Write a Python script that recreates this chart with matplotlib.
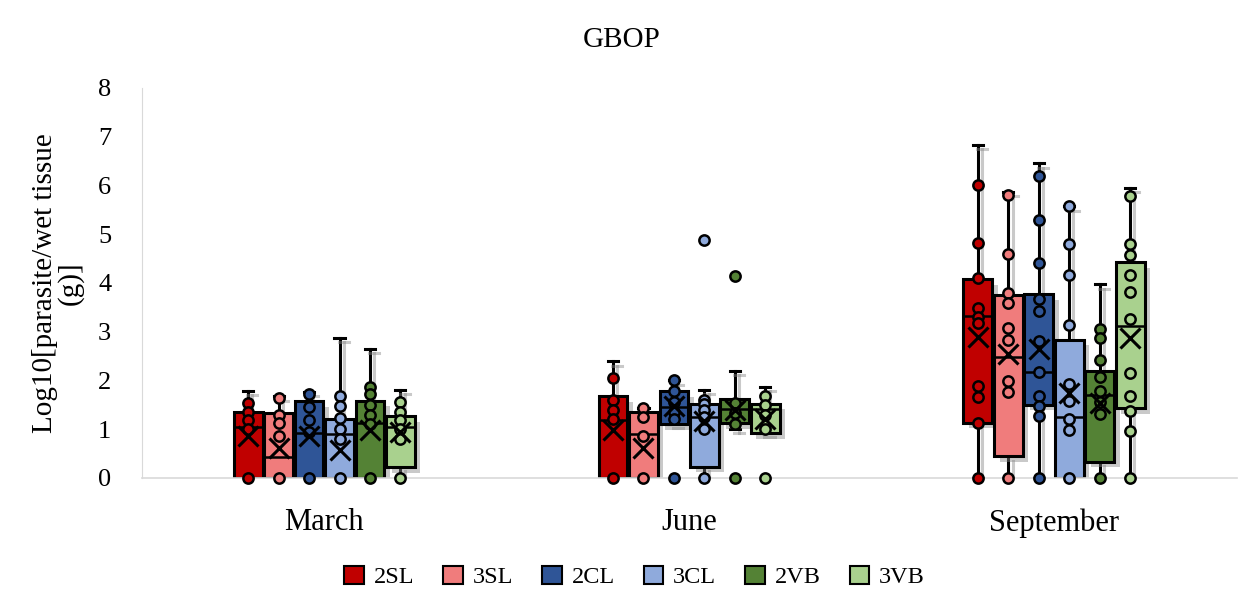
import matplotlib
matplotlib.use("Agg")
import matplotlib.pyplot as plt
import matplotlib.patheffects as pe
from matplotlib.patches import Patch

plt.rcParams['font.family'] = ['Liberation Serif', 'DejaVu Serif']

months = ["March", "June", "September"]
series = ["2SL", "3SL", "2CL", "3CL", "2VB", "3VB"]
colors = ["#C00000", "#F07C7C", "#2F5597", "#8FAADC", "#548235", "#A9D18E"]

# rows: months, cols: series
q1 = [[0.0, 0.0, 0.0, 0.0, 0.0, 0.22],
      [0.0, 0.0, 1.10, 0.23, 1.12, 0.92],
      [1.13, 0.44, 1.50, 0.0, 0.33, 1.43]]
med = [[1.05, 0.43, 0.92, 0.90, 1.12, 1.05],
       [1.19, 0.90, 1.45, 1.25, 1.41, 1.41],
       [3.33, 2.49, 2.17, 1.24, 1.70, 3.12]]
q3 = [[1.36, 1.33, 1.57, 1.20, 1.58, 1.27],
      [1.67, 1.36, 1.78, 1.52, 1.62, 1.52],
      [4.08, 3.75, 3.77, 2.83, 2.20, 4.42]]
whislo = [[0.0, 0.0, 0.0, 0.0, 0.0, 0.0],
          [0.0, 0.0, 1.10, 0.0, 1.00, 0.92],
          [0.0, 0.0, 0.0, 0.0, 0.0, 0.0]]
whishi = [[1.78, 1.67, 1.77, 2.87, 2.65, 1.80],
          [2.39, 1.43, 2.00, 1.80, 2.20, 1.86],
          [6.83, 5.86, 6.45, 5.57, 3.97, 5.94]]
means = [[0.85, 0.61, 0.85, 0.57, 0.98, 0.95],
         [0.98, 0.61, 1.48, 1.16, 1.40, 1.20],
         [2.90, 2.55, 2.65, 1.74, 1.53, 2.88]]
points = [
    [[1.53, 1.36, 1.19, 1.00, 0.0],
     [1.63, 1.30, 1.13, 0.85, 0.0],
     [1.72, 1.46, 1.19, 0.95, 0.0],
     [1.67, 1.47, 1.22, 1.00, 0.80, 0.0],
     [1.86, 1.72, 1.50, 1.30, 1.10, 0.0],
     [1.55, 1.36, 1.18, 1.00, 0.80, 0.0]],
    [[2.05, 1.60, 1.40, 1.20, 0.0],
     [1.43, 1.25, 0.85, 0.0],
     [2.00, 1.78, 1.56, 1.36, 1.20, 0.0],
     [4.87, 1.60, 1.52, 1.40, 1.25, 1.00, 0.0],
     [4.15, 1.53, 1.33, 1.10, 0.0],
     [1.68, 1.50, 1.30, 1.00, 0.0]],
    [[6.00, 4.82, 4.10, 3.48, 3.30, 3.18, 1.88, 1.66, 1.13, 0.0],
     [5.80, 4.60, 3.80, 3.59, 3.08, 2.83, 1.98, 1.77, 0.0],
     [6.20, 5.30, 4.40, 3.67, 3.42, 2.80, 2.17, 1.68, 1.47, 1.28, 0.0],
     [5.57, 4.80, 4.17, 3.13, 1.92, 1.58, 1.20, 0.98, 0.0],
     [3.05, 2.87, 2.42, 2.07, 1.78, 1.55, 1.31, 0.0],
     [5.78, 4.80, 4.57, 4.17, 3.81, 3.25, 2.16, 1.68, 1.37, 0.96, 0.0]],
]

fig = plt.figure(figsize=(12.44, 5.90), dpi=100)
ax = fig.add_axes([0.114, 0.19, 0.880, 0.661])

pitch = 0.0835
width = 0.079
shadow_patch = [pe.SimplePatchShadow(offset=(4, -4), shadow_rgbFace="#888888", alpha=0.45), pe.Normal()]
shadow_line = [pe.SimpleLineShadow(offset=(3, -3), shadow_color="#888888", alpha=0.45), pe.Normal()]

for m in range(len(months)):
    for s in range(len(series)):
        x = m + (s - 2.5) * pitch
        st = dict(med=med[m][s], q1=q1[m][s], q3=q3[m][s], whislo=whislo[m][s],
                  whishi=whishi[m][s], mean=means[m][s], fliers=[])
        bp = ax.bxp([st], positions=[x], widths=width, patch_artist=True,
                    showmeans=True, showfliers=False, manage_ticks=False,
                    boxprops=dict(facecolor=colors[s], edgecolor="black", linewidth=2.2),
                    medianprops=dict(color="black", linewidth=1.8),
                    whiskerprops=dict(color="black", linewidth=2.2),
                    capprops=dict(color="black", linewidth=2.2),
                    capwidths=width * 0.35,
                    meanprops=dict(marker="x", markersize=14, markeredgecolor="black",
                                   markeredgewidth=2.2, markerfacecolor="none"))
        for b in bp["boxes"]:
            b.set_path_effects(shadow_patch)
            b.set_zorder(2)
        for l in bp["whiskers"] + bp["caps"]:
            l.set_path_effects(shadow_line)
            l.set_zorder(1.5)
        for l in bp["medians"]:
            l.set_zorder(3)
        for l in bp["means"]:
            l.set_zorder(5)
        pts = points[m][s]
        ax.scatter([x] * len(pts), pts, s=55, facecolor=colors[s], edgecolor="black",
                   linewidth=1.8, zorder=4, clip_on=False)

ax.set_xlim(-0.5, 2.5)
ax.set_ylim(0, 8)
ax.set_yticks(range(0, 9))
ax.set_xticks(range(len(months)))
ax.set_xticklabels(months)
ax.tick_params(axis="x", length=0, pad=22, labelsize=22)
ax.tick_params(axis="y", length=0, labelsize=19, pad=22)
for sp in ["top", "right"]:
    ax.spines[sp].set_visible(False)
ax.spines["left"].set_color("#D9D9D9")
ax.spines["bottom"].set_color("#D9D9D9")
ax.spines["bottom"].set_linewidth(1.2)

ax.set_ylabel("Log10[parasite/wet tissue\n(g)]", fontsize=21, linespacing=0.95, labelpad=10)
fig.suptitle("GBOP", fontsize=21, y=0.955)

handles = [Patch(facecolor=c, edgecolor="black", linewidth=1.5, label=n) for c, n in zip(colors, series)]
leg = fig.legend(handles=handles, loc="center", bbox_to_anchor=(0.51, 0.022), ncol=6,
                 frameon=False, fontsize=17.5, handlelength=0.8, handleheight=0.8,
                 handletextpad=0.4, columnspacing=1.2, borderpad=0)

fig.savefig("out.png", dpi=100)
